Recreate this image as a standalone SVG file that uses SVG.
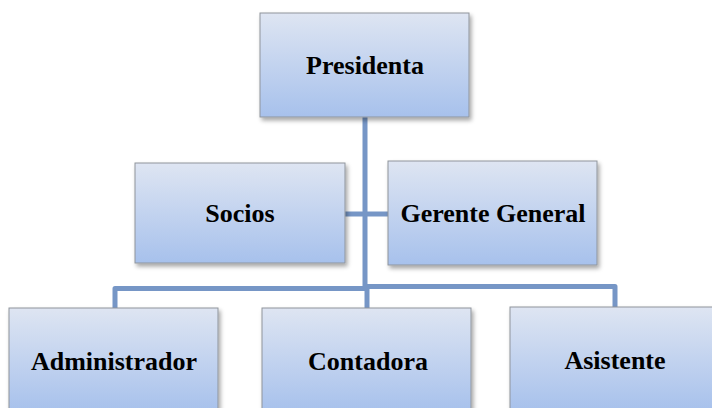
<svg xmlns="http://www.w3.org/2000/svg" width="712" height="408" viewBox="0 0 712 408">
  <defs>
    <linearGradient id="boxFill" x1="0" y1="0" x2="0" y2="1">
      <stop offset="0" stop-color="#dee5f2"/>
      <stop offset="1" stop-color="#a7c1ec"/>
    </linearGradient>
    <filter id="shadow" x="-10%" y="-10%" width="125%" height="130%">
      <feDropShadow dx="2" dy="3" stdDeviation="2" flood-color="#000" flood-opacity="0.35"/>
    </filter>
  </defs>
  <style>
    .box { fill: url(#boxFill); stroke: #8f949c; stroke-width: 1; filter: url(#shadow); }
    .label { font-weight: bold; font-size: 26px; fill: #000; text-anchor: middle; }
    .conn { fill: none; stroke: #7696c6; stroke-width: 5; stroke-linejoin: round; stroke-linecap: butt; }
  </style>
  <rect width="712" height="408" fill="#ffffff"/>

  <g id="connectors">
    <line class="conn" x1="365" y1="117" x2="365" y2="289"/>
    <line class="conn" x1="345" y1="214" x2="388" y2="214"/>
    <path class="conn" d="M115,308 V288.5 H365"/>
    <path class="conn" d="M365,286.5 H615 V307"/>
    <line class="conn" x1="367" y1="286" x2="367" y2="308"/>
  </g>

  <g id="presidenta">
    <rect class="box" x="260" y="13" width="209" height="104"/>
    <text class="label" font-family="Liberation Serif, serif" x="365" y="74">Presidenta</text>
  </g>
  <g id="socios">
    <rect class="box" x="135" y="163" width="210" height="100"/>
    <text class="label" font-family="Liberation Serif, serif" x="240" y="222">Socios</text>
  </g>
  <g id="gerente-general">
    <rect class="box" x="388" y="161" width="209" height="104"/>
    <text class="label" font-family="Liberation Serif, serif" x="493" y="222">Gerente General</text>
  </g>
  <g id="administrador">
    <rect class="box" x="9" y="308" width="209" height="104"/>
    <text class="label" font-family="Liberation Serif, serif" x="114" y="370">Administrador</text>
  </g>
  <g id="contadora">
    <rect class="box" x="262" y="308" width="209" height="104"/>
    <text class="label" font-family="Liberation Serif, serif" x="368" y="370">Contadora</text>
  </g>
  <g id="asistente">
    <rect class="box" x="510" y="307" width="210" height="104"/>
    <text class="label" font-family="Liberation Serif, serif" x="615" y="369">Asistente</text>
  </g>
</svg>
